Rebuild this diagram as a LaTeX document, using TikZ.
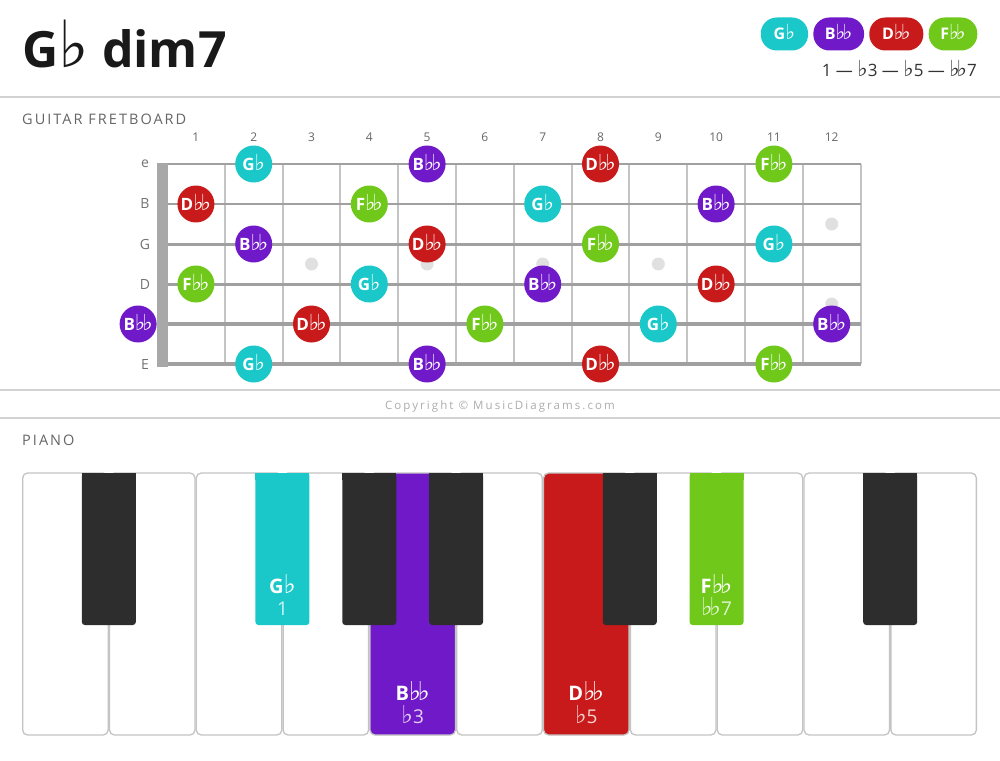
\documentclass[tikz,border=0pt]{standalone}
\usepackage{fontspec}
\setmainfont{Open Sans}
\newfontfamily\symf[Scale=1.3]{DejaVu Sans}
\newfontfamily\spaced[LetterSpace=14]{Open Sans}
\newfontfamily\spacedc[LetterSpace=18]{Open Sans}
\newcommand{\fl}{{\symf\mdseries ♭}}
\newcommand{\dfl}{{\symf\mdseries ♭\kern-0.14em♭}}
\newcommand{\nG}{G\fl}
\newcommand{\nB}{B\dfl}
\newcommand{\nD}{D\dfl}
\newcommand{\nF}{F\dfl}
\definecolor{cG}{HTML}{1BC8C9}
\definecolor{cB}{HTML}{7019C8}
\definecolor{cD}{HTML}{C81A1A}
\definecolor{cF}{HTML}{6FC81A}
\definecolor{sepc}{HTML}{D2D2D2}
\definecolor{strc}{HTML}{A0A0A0}
\definecolor{fretc}{HTML}{C4C4C4}
\definecolor{nutc}{HTML}{A8A8A8}
\definecolor{inlay}{HTML}{E0E0E0}
\definecolor{blk}{HTML}{2D2D2D}
\definecolor{wkb}{HTML}{C4C4C4}
\begin{document}
\begin{tikzpicture}[x=1pt,y=-1pt,
  note/.style={circle, fill=#1, minimum size=37pt, inner sep=0pt, text=white,
    text height=12pt, text depth=0pt, font=\fontsize{17}{17}\selectfont\bfseries},
  pill/.style={rectangle, rounded corners=16pt, fill=#1, minimum height=33pt, inner sep=0pt,
    text=white, text height=11pt, text depth=0pt, font=\fontsize{16}{16}\selectfont\bfseries},
  header/.style={anchor=base west, inner sep=0pt, text=black!60, font=\fontsize{14.5}{14.5}\selectfont\spaced},
  fretnum/.style={inner sep=0pt, text=black!60, font=\fontsize{12}{12}\selectfont},
  strlab/.style={inner sep=0pt, text=black!55, font=\fontsize{14}{14}\selectfont},
  sepline/.style={draw=sepc, line width=2pt},
  wkey/.style={draw=wkb, line width=1.3pt, rounded corners=5pt},
  bkey/.style={rounded corners=3pt},
  keyname/.style={inner sep=0pt, anchor=base, text=white, font=\fontsize{20}{20}\selectfont\bfseries},
  keyint/.style={inner sep=0pt, anchor=base, text=white, text opacity=0.8, font=\fontsize{19}{19}\selectfont}]
\useasboundingbox (0,0) rectangle (1000,760);
\fill[white] (0,0) rectangle (1000,760);
% title
\node[anchor=base west, inner sep=0pt, text=black!90, font=\fontsize{50}{50}\selectfont\bfseries] (title) at (22,67) {G\fl\ dim7};
% legend
\node[pill=cG, minimum width=47.3pt] (lgG) at (784.4,34) {\nG};
\node[pill=cB, minimum width=50.7pt] (lgB) at (838.7,34) {\nB};
\node[pill=cD, minimum width=54pt] (lgD) at (896.3,34) {\nD};
\node[pill=cF, minimum width=48.6pt] (lgF) at (953,34) {\nF};
\node[anchor=base east, inner sep=0pt, text=black!80, font=\fontsize{17}{17}\selectfont] (intv) at (977,77) {1 — \fl3 — \fl5 — \dfl7};
% separators
\draw[sepline] (0,97) -- (1000,97);
\draw[sepline] (0,390) -- (1000,390);
\draw[sepline] (0,418) -- (1000,418);
% guitar
\node[header] (hguitar) at (22,124) {GUITAR FRETBOARD};
\foreach \n in {1,...,12} {
  \node[fretnum] (fn\n) at ({167+(\n-0.5)*57.8},137) {\n};
  \draw[fretc, line width=2pt] ({167+\n*57.8},164) -- ({167+\n*57.8},364);
}
\foreach \y/\w in {164/2.6,204/2.6,244/3,284/3,324/3.4,364/4}
  \draw[strc, line width=\w pt] (157,\y) -- (860.6,\y);
\fill[nutc] (157,162.5) rectangle (167.5,366.5);
\node[strlab] (se) at (145,164) {e};
\node[strlab] (sB) at (145,204) {B};
\node[strlab] (sG) at (145,244) {G};
\node[strlab] (sD) at (145,284) {D};
\node[strlab] (sE) at (145,364) {E};
\foreach \n/\y in {3/264,5/264,7/264,9/264,12/224,12/304}
  \fill[inlay] ({167+(\n-0.5)*57.8},\y) circle (6.5);
\foreach \y/\n/\c/\t [count=\i] in {
  164/2/cG/\nG, 164/5/cB/\nB, 164/8/cD/\nD, 164/11/cF/\nF,
  204/1/cD/\nD, 204/4/cF/\nF, 204/7/cG/\nG, 204/10/cB/\nB,
  244/2/cB/\nB, 244/5/cD/\nD, 244/8/cF/\nF, 244/11/cG/\nG,
  284/1/cF/\nF, 284/4/cG/\nG, 284/7/cB/\nB, 284/10/cD/\nD,
  324/0/cB/\nB, 324/3/cD/\nD, 324/6/cF/\nF, 324/9/cG/\nG, 324/12/cB/\nB,
  364/2/cG/\nG, 364/5/cB/\nB, 364/8/cD/\nD, 364/11/cF/\nF}
  \node[note=\c] (note\i) at ({167+(\n-0.5)*57.8},\y) {\t};
% copyright
\node[inner sep=0pt, text=black!32, font=\fontsize{11.5}{11.5}\selectfont\spacedc] (copy) at (500,407) {Copyright © MusicDiagrams.com};
% piano
\node[header] (hpiano) at (22,445) {PIANO};
\foreach \i/\c in {0/white,1/white,2/white,3/white,4/cB,5/white,6/cD,7/white,8/white,9/white,10/white}
  \draw[wkey, fill=\c] ({22+86.82*\i+0.65},473) rectangle ({22+86.82*(\i+1)-0.65},735);
\foreach \k/\c in {1/blk,3/cG,4/blk,5/blk,7/blk,8/cF,10/blk} {
  \fill[bkey, \c] ({22+86.82*\k-27},473) rectangle ({22+86.82*\k+27},625);
  \fill[\c] ({22+86.82*\k-27},472.5) rectangle ({22+86.82*\k+27},480);
}
\node[keyname] (kG) at ({22+86.82*3},593) {\nG};
\node[keyint] (kGi) at ({22+86.82*3},615) {1};
\node[keyname] (kF) at ({22+86.82*8},593) {\nF};
\node[keyint] (kFi) at ({22+86.82*8},615) {\dfl7};
\node[keyname] (kB) at ({22+86.82*4.5},700) {\nB};
\node[keyint] (kBi) at ({22+86.82*4.5},723) {\fl3};
\node[keyname] (kD) at ({22+86.82*6.5},700) {\nD};
\node[keyint] (kDi) at ({22+86.82*6.5},723) {\fl5};
\end{tikzpicture}
\end{document}
